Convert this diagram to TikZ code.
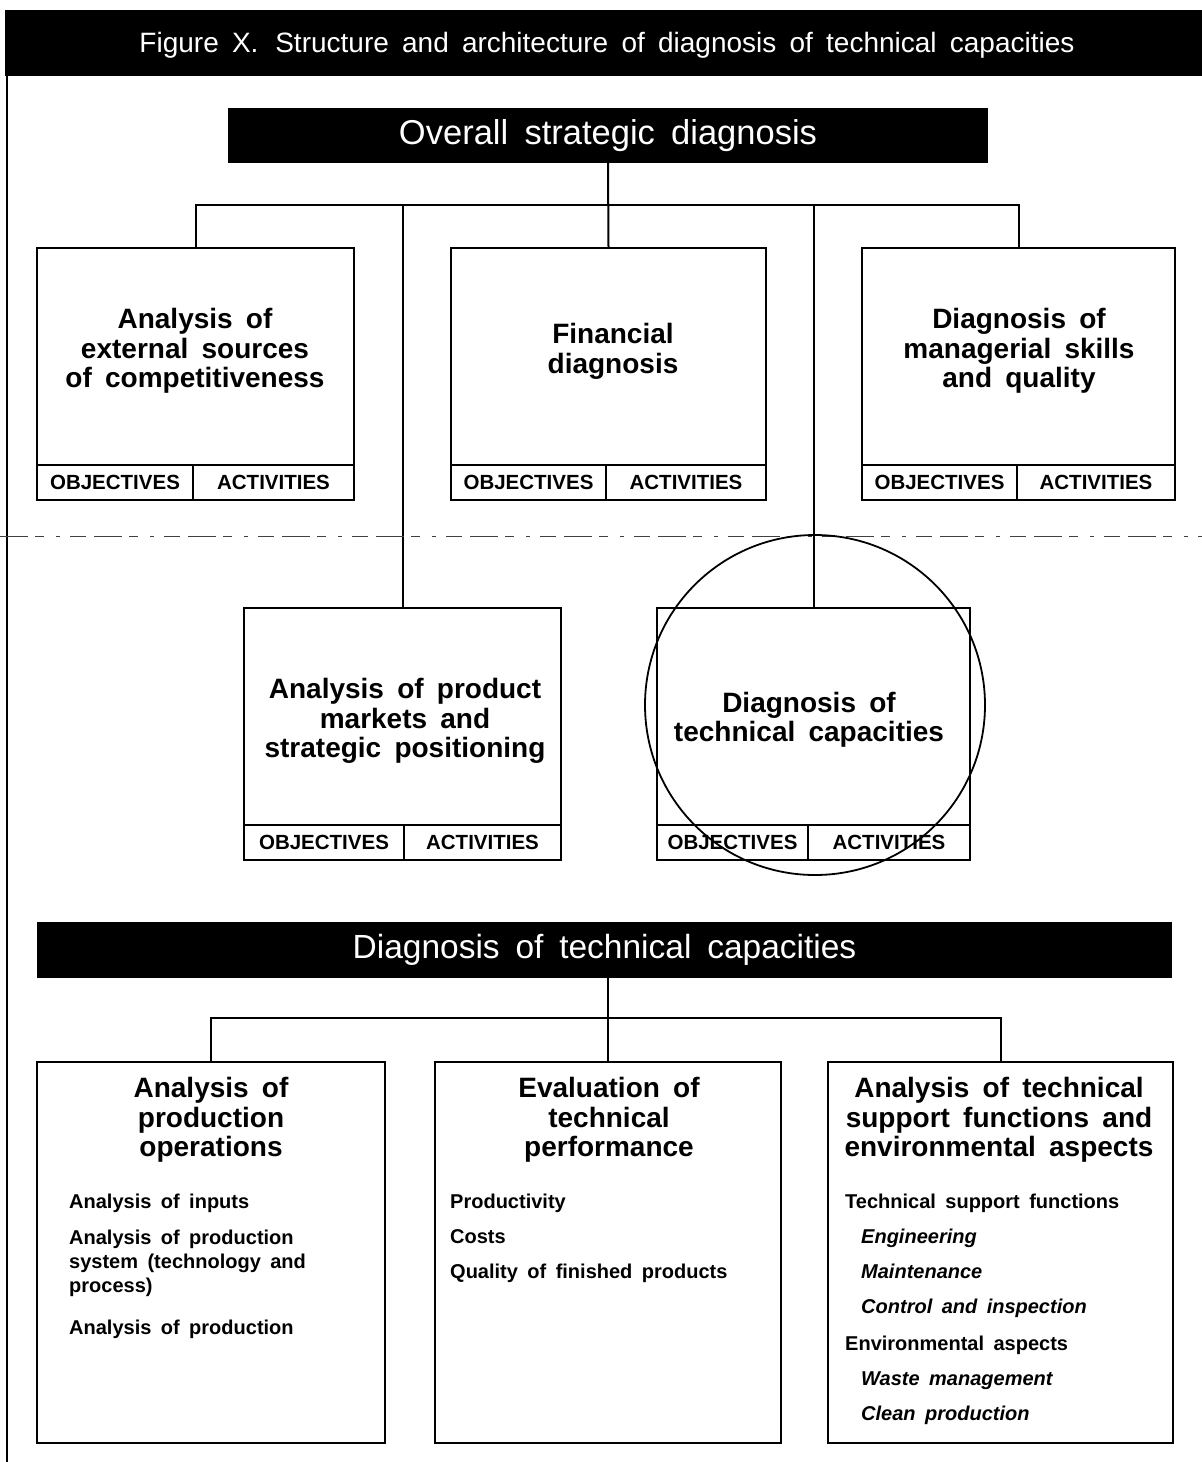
\documentclass[tikz,border=0pt]{standalone}
\usepackage{fontspec}
\setmainfont[WordSpace=1.7]{Liberation Sans}
\begin{document}
\begin{tikzpicture}[x=1pt,y=-1pt,
  panel/.style={draw,line width=2pt,rectangle,inner sep=0pt},
  cell/.style={draw,line width=2pt,rectangle,inner sep=0pt,minimum height=35pt,
    font=\fontsize{20.5}{22}\selectfont\bfseries},
  head/.style={align=center,inner sep=0pt,font=\fontsize{28}{29.5}\selectfont\bfseries},
  item/.style={anchor=base west,align=left,inner sep=0pt,font=\fontsize{20}{24}\selectfont\bfseries},
  itemi/.style={item,font=\fontsize{20}{24}\selectfont\bfseries\itshape},
  bar/.style={fill=black,text=white,inner sep=0pt},
  wire/.style={line width=2pt},
  scanline/.style={line width=0.9pt,black!75,dash pattern=on 28pt off 7pt on 9pt off 12pt on 4pt off 10pt on 16pt off 8pt}]
\useasboundingbox (0,0) rectangle (1202,1462);

% title band and left rule
\fill (5,10) rectangle (1202,76);
\node[text=white,font=\fontsize{28}{30}\selectfont] (title) at (607,45)
  {Figure X.\hspace{0.6em}Structure and architecture of diagnosis of technical capacities};
\draw[line width=1.5pt] (7,76) -- (7,1462);

% level 0
\node[bar,minimum width=760pt,minimum height=55pt,font=\fontsize{34.5}{36}\selectfont] (ovr) at (608,135.5)
  {Overall strategic diagnosis};

% level 1 panels
\node[panel,minimum width=317pt,minimum height=252pt] (b1) at (195.5,374) {};
\node[panel,minimum width=315pt,minimum height=252pt] (b2) at (608.5,374) {};
\node[panel,minimum width=313pt,minimum height=252pt] (b3) at (1018.5,374) {};
\node[panel,minimum width=317pt,minimum height=252pt] (b4) at (402.5,734) {};
\node[panel,minimum width=313pt,minimum height=252pt] (b5) at (813.5,734) {};

\node[head] (b1t) at (195,351) {Analysis of\\external sources\\of competitiveness};
\node[head] (b2t) at (613,351.5) {Financial\\diagnosis};
\node[head] (b3t) at (1019,351) {Diagnosis of\\managerial skills\\and quality};
\node[head] (b4t) at (405,721) {Analysis of product\\markets and\\strategic positioning};
\node[head] (b5t) at (809,719.5) {Diagnosis of\\technical capacities};

% objectives / activities strips
\node[cell,minimum width=156pt] (b1o) at (115,482.5) {OBJECTIVES};
\node[cell,minimum width=161pt] (b1a) at (273.5,482.5) {ACTIVITIES};
\node[cell,minimum width=155pt] (b2o) at (528.5,482.5) {OBJECTIVES};
\node[cell,minimum width=160pt] (b2a) at (686,482.5) {ACTIVITIES};
\node[cell,minimum width=155pt] (b3o) at (939.5,482.5) {OBJECTIVES};
\node[cell,minimum width=158pt] (b3a) at (1096,482.5) {ACTIVITIES};
\node[cell,minimum width=160pt] (b4o) at (324,842.5) {OBJECTIVES};
\node[cell,minimum width=157pt] (b4a) at (482.5,842.5) {ACTIVITIES};
\node[cell,minimum width=151pt] (b5o) at (732.5,842.5) {OBJECTIVES};
\node[cell,minimum width=162pt] (b5a) at (889,842.5) {ACTIVITIES};

% tree connectors, upper chart
\coordinate (bus1) at (195,205);
\draw[wire] (ovr.south) -- (b2.north);
\draw[wire] (b1.north) -- (b1.north |- bus1) -- (b3.north |- bus1) -- (b3.north);
\draw[wire] (b4.north) -- (b4.north |- bus1);
\draw[wire] (b5.north) -- (b5.north |- bus1);

% faint rule across the sheet
\draw[scanline] (0,536) -- (1202,536);

% ring around the technical capacities panel
\node[draw,circle,line width=1.8pt,minimum size=340pt,inner sep=0pt] (ring) at (815,705) {};

% level 2
\node[bar,minimum width=1135pt,minimum height=56pt,font=\fontsize{33.5}{36}\selectfont] (dtc) at (604.5,950)
  {Diagnosis of technical capacities};

\node[panel,minimum width=348pt,minimum height=381pt] (b6) at (211,1252.5) {};
\node[panel,minimum width=346pt,minimum height=381pt] (b7) at (608,1252.5) {};
\node[panel,minimum width=345pt,minimum height=381pt] (b8) at (1000.5,1252.5) {};

\coordinate (bus2) at (211,1018);
\draw[wire] (b7.north) -- (b7.north |- dtc.south);
\draw[wire] (b6.north) -- (b6.north |- bus2) -- (b8.north |- bus2) -- (b8.north);

\node[head] (b6t) at (211,1120) {Analysis of\\production\\operations};
\node[head] (b7t) at (609,1120) {Evaluation of\\technical\\performance};
\node[head] (b8t) at (999,1120) {Analysis of technical\\support functions and\\environmental aspects};

% panel contents (multi-line entries sit on their last baseline)
\node[item] (p1) at (69,1208) {Analysis of inputs};
\node[item] (p2) at (69,1292) {Analysis of production\\system (technology and\\process)};
\node[item] (p3) at (69,1334) {Analysis of production};

\node[item] (e1) at (450,1208) {Productivity};
\node[item] (e2) at (450,1243) {Costs};
\node[item] (e3) at (450,1278) {Quality of finished products};

\node[item] (s1) at (845,1208) {Technical support functions};
\node[itemi] (s2) at (861,1243) {Engineering};
\node[itemi] (s3) at (861,1278) {Maintenance};
\node[itemi] (s4) at (861,1313) {Control and inspection};
\node[item] (s5) at (845,1350) {Environmental aspects};
\node[itemi] (s6) at (861,1385) {Waste management};
\node[itemi] (s7) at (861,1420) {Clean production};
\end{tikzpicture}
\end{document}
